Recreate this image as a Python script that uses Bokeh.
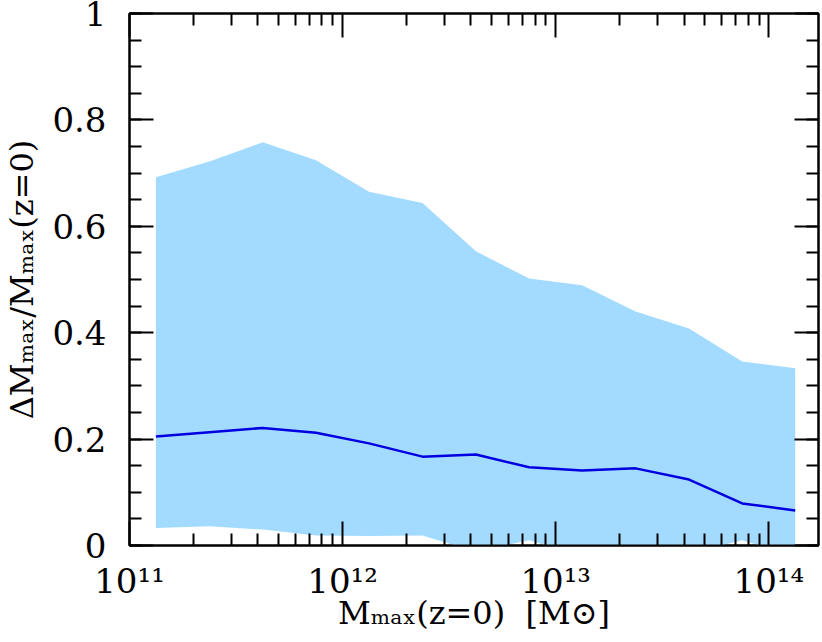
from bokeh.plotting import figure
from bokeh.models import (LinearAxis, LogAxis, FixedTicker, CustomJSTickFormatter,
                          ColumnDataSource, Range1d)
from bokeh.embed import file_html
from bokeh.resources import INLINE

# ---- data ----
mass = [1.33e11, 2.37e11, 4.22e11, 7.50e11, 1.33e12, 2.37e12, 4.22e12,
        7.50e12, 1.33e13, 2.37e13, 4.22e13, 7.50e13, 1.33e14]
upper = [0.692, 0.722, 0.758, 0.724, 0.665, 0.644, 0.553,
         0.502, 0.489, 0.440, 0.408, 0.346, 0.333]
median = [0.205, 0.213, 0.221, 0.212, 0.192, 0.167, 0.171,
          0.147, 0.141, 0.145, 0.124, 0.079, 0.066]
lower = [0.033, 0.036, 0.030, 0.019, 0.018, 0.019, -0.012,
         0.010, -0.020, -0.020, -0.015, 0.010, -0.020]

x_major_ticks = [1e11, 1e12, 1e13, 1e14]
x_tick_labels = ["10\u00b9\u00b9", "10\u00b9\u00b2", "10\u00b9\u00b3", "10\u00b9\u2074"]
y_major_ticks = [0.0, 0.2, 0.4, 0.6, 0.8, 1.0]
y_tick_labels = ["0", "0.2", "0.4", "0.6", "0.8", "1"]

x_title = "M\u2098\u2090\u2093(z=0)\u00a0\u00a0[M\u2299]"
y_title = "\u0394M\u2098\u2090\u2093/M\u2098\u2090\u2093(z=0)"

FONT = "DejaVu Serif"
BAND = "#A2DBFF"
LINE = "#0000E0"

src = ColumnDataSource(dict(mass=mass, upper=upper, median=median, lower=lower))

p = figure(width=820, height=642, x_axis_type="log",
           x_range=Range1d(1e11, 1.71e14), y_range=Range1d(0, 1),
           output_backend="svg", toolbar_location=None,
           min_border_left=128, min_border_right=2, min_border_top=13,
           min_border_bottom=97)
p.background_fill_color = "white"
p.border_fill_color = "white"
p.outline_line_color = "black"
p.outline_line_width = 2
p.xgrid.visible = False
p.ygrid.visible = False

p.varea(x="mass", y1="lower", y2="upper", source=src, fill_color=BAND)
p.line(x="mass", y="median", source=src, line_color=LINE, line_width=2.5)

x_minor = [k * 10 ** e for e in range(11, 15) for k in range(2, 10)]
y_minor = [i * 0.05 for i in range(21)]
xticker = FixedTicker(ticks=x_major_ticks, minor_ticks=x_minor)
yticker = FixedTicker(ticks=y_major_ticks, minor_ticks=y_minor)

xfmt = CustomJSTickFormatter(args=dict(tvals=x_major_ticks, tlabels=x_tick_labels), code="""
const i = tvals.findIndex(t => Math.abs(Math.log10(t) - Math.log10(tick)) < 1e-6);
return i >= 0 ? tlabels[i] : '';
""")
yfmt = CustomJSTickFormatter(args=dict(tvals=y_major_ticks, tlabels=y_tick_labels), code="""
const i = tvals.findIndex(t => Math.abs(t - tick) < 1e-9);
return i >= 0 ? tlabels[i] : '';
""")

def style(ax):
    ax.axis_line_width = 2
    ax.axis_line_color = "black"
    ax.major_tick_line_width = 2
    ax.minor_tick_line_width = 2
    ax.major_tick_in = 24
    ax.major_tick_out = 0
    ax.minor_tick_in = 12
    ax.minor_tick_out = 0
    ax.major_label_text_font = FONT
    ax.major_label_text_font_size = "34px"
    ax.major_label_text_color = "black"
    ax.axis_label_text_font = FONT
    ax.axis_label_text_font_size = "32px"
    ax.axis_label_text_font_style = "normal"
    ax.axis_label_text_color = "black"

xax = p.xaxis[0]
xax.ticker = xticker
xax.formatter = xfmt
style(xax)
xax.major_label_standoff = 15
xax.axis_label = x_title
xax.axis_label_standoff = -10

yax = p.yaxis[0]
yax.ticker = yticker
yax.formatter = yfmt
style(yax)
yax.major_label_standoff = 23
yax.axis_label = y_title
yax.axis_label_standoff = 8

def mirror(ax):
    style(ax)
    ax.major_label_text_font_size = "0px"
    ax.major_label_text_color = None
    ax.major_label_text_alpha = 0
    ax.major_label_standoff = 0

top = LogAxis(ticker=xticker, formatter=xfmt)
mirror(top)
p.add_layout(top, "above")

right = LinearAxis(ticker=yticker, formatter=yfmt)
mirror(right)
p.add_layout(right, "right")

open("out.html", "w").write(file_html(p, INLINE))
